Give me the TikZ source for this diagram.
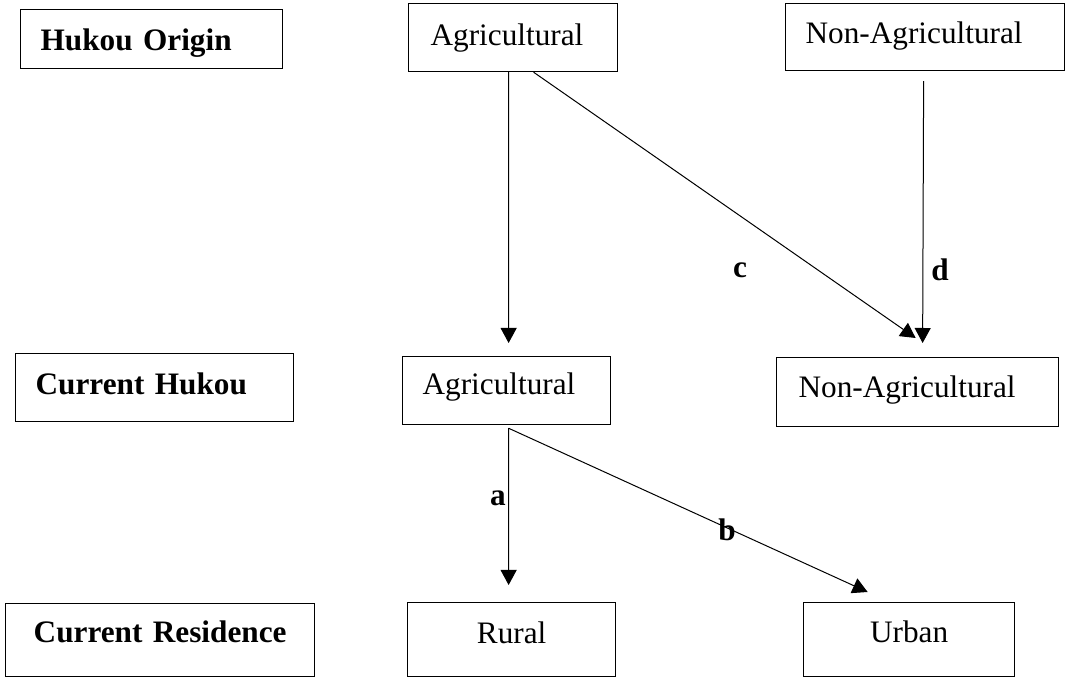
\documentclass[tikz,border=0pt]{standalone}
\usepackage{fontspec}
\setmainfont{Liberation Serif}
\usepackage{tikz}
\usetikzlibrary{arrows.meta}

\begin{document}
\begin{tikzpicture}[x=0.4pt, y=-0.4pt,
	box/.style={draw=black, fill=white, shape=rectangle, line width=0.5pt, anchor=north west, inner ysep=0pt, font=\fontsize{12.5}{15}\selectfont},
	head/.style={box, align=left, font=\fontsize{12.5}{15}\selectfont\bfseries},
	arr/.style={line width=0.4pt, -{Triangle[length=6pt, width=6.4pt]}},
	lbl/.style={font=\fontsize{12.5}{15}\selectfont\bfseries}]
	\useasboundingbox (0, 0) rectangle (1066, 677);
	% row headings
	\node [head, inner xsep=8pt, text width=88.8pt, text height=16.4pt, text depth=7.2pt] (origin) at (20, 9) {Hukou Origin};
	\node [head, inner xsep=8pt, text width=95.2pt, text height=16.4pt, text depth=10.8pt] (hukou) at (15, 353) {Current Hukou};
	\node [head, align=center, inner xsep=0pt, text width=123.6pt, text height=15.6pt, text depth=13.6pt] (residence) at (5, 603) {Current Residence};
	% hukou origin
	\node [box, align=left, inner xsep=8.8pt, text width=66pt, text height=16.8pt, text depth=10.4pt] (agriOrig) at (408, 3) {Agricultural};
	\node [box, align=left, inner xsep=8pt, text width=95.6pt, text height=16pt, text depth=10.8pt] (nonOrig) at (785, 3) {Non-Agricultural};
	% current hukou
	\node [box, align=left, inner xsep=8pt, text width=67.2pt, text height=15.2pt, text depth=12pt] (agriCur) at (402, 356) {Agricultural};
	\node [box, align=left, inner xsep=8.8pt, text width=95.2pt, text height=16pt, text depth=11.6pt] (nonCur) at (776, 357) {Non-Agricultural};
	% current residence
	\node [box, align=center, inner xsep=0pt, text width=83.2pt, text height=16.4pt, text depth=13.2pt] (rural) at (407, 602) {Rural};
	\node [box, align=center, inner xsep=0pt, text width=84.4pt, text height=16pt, text depth=13.6pt] (urban) at (803, 602) {Urban};
	% transitions
	\draw [arr] ([xshift=-1.8pt]agriOrig.south) to ([xshift=0.8pt, yshift=5.2pt]agriCur.north);
	\draw [arr] ([xshift=8.2pt]agriOrig.south) to ([xshift=-0.8pt, yshift=7.6pt]nonCur.north);
	\draw [arr] ([xshift=-0.6pt, yshift=-4pt]nonOrig.south) to ([xshift=2pt, yshift=5.6pt]nonCur.north);
	\draw [arr] ([xshift=0.8pt, yshift=-1.2pt]agriCur.south) to ([xshift=-1.2pt, yshift=6.8pt]rural.north);
	\draw [arr] ([xshift=0.8pt, yshift=-1.2pt]agriCur.south) to ([xshift=-16.6pt, yshift=4pt]urban.north);
	\node [lbl] (c) at (740, 270) {c};
	\node [lbl] (d) at (940, 270) {d};
	\node [lbl] (a) at (498, 498) {a};
	\node [lbl] (b) at (727, 530) {b};
\end{tikzpicture}
\end{document}
